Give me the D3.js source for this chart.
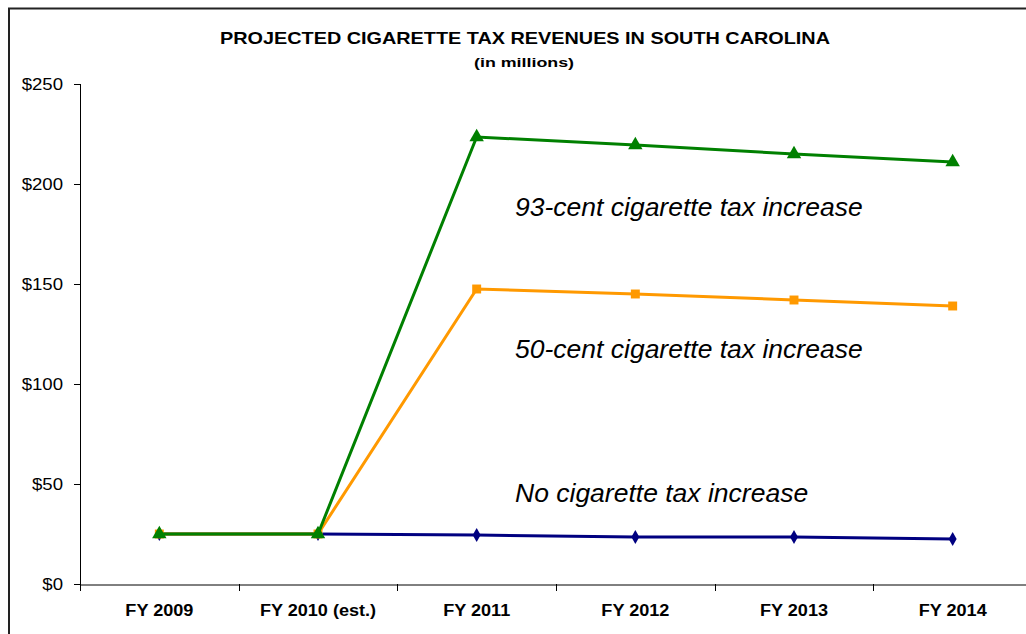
<!DOCTYPE html>
<html><head><meta charset="utf-8">
<script src="https://cdn.jsdelivr.net/npm/d3@7"></script>
<style>body{margin:0;background:#fff}svg{display:block}text{font-family:Arial,"Liberation Sans",sans-serif}</style>
</head><body><svg id="c" width="1026" height="634"></svg>
<script>
const categories = ["FY 2009","FY 2010 (est.)","FY 2011","FY 2012","FY 2013","FY 2014"];
const noIncrease = [25, 25, 24.5, 23.5, 23.5, 22.5];
const cent50 = [25, 25, 147.5, 145, 142, 139];
const cent93 = [25, 25, 223.5, 219.5, 215, 211];
const yTicks = [0, 50, 100, 150, 200, 250];
const title = "PROJECTED CIGARETTE TAX REVENUES IN SOUTH CAROLINA";
const subtitle = "(in millions)";
const labels = ["93-cent cigarette tax increase","50-cent cigarette tax increase","No cigarette tax increase"];
const labelValues = [184, 113, 41];

const svg = d3.select("#c");
svg.append("rect").attr("x",9).attr("y",8.5).attr("width",1100).attr("height",700)
  .attr("fill","none").attr("stroke","#222").attr("stroke-width",2);

const x = d3.scaleBand().domain(categories).range([80, 1032]);
const y = d3.scaleLinear().domain([0,250]).range([584, 84]);

function stretch(sel, f){
  sel.each(function(){
    const w = this.getComputedTextLength();
    d3.select(this).attr("textLength", w*f).attr("lengthAdjust","spacingAndGlyphs");
  });
}

svg.append("text").attr("x",525).attr("y",44).attr("text-anchor","middle")
  .attr("font-weight","bold").attr("font-size",16.5).attr("fill","#000")
  .attr("textLength",610).attr("lengthAdjust","spacingAndGlyphs").text(title);
svg.append("text").attr("x",524).attr("y",67).attr("text-anchor","middle")
  .attr("font-weight","bold").attr("font-size",13.5).attr("fill","#000")
  .attr("textLength",100).attr("lengthAdjust","spacingAndGlyphs").text(subtitle);

const ya = svg.append("g").attr("transform","translate(80,0)")
  .call(d3.axisLeft(y).tickValues(yTicks).tickSize(6).tickPadding(11).tickFormat(d=>"$"+d));
ya.select(".domain").attr("stroke","#000").attr("d","M0.5,"+y(250)+"V"+y(0));
ya.selectAll(".tick line").attr("stroke","#000");
ya.selectAll("text").attr("font-size",16).attr("fill","#000").attr("font-family","Arial, Liberation Sans, sans-serif");
stretch(ya.selectAll("text"), 1.16);

const xa = svg.append("g").attr("transform","translate(0,584.5)")
  .call(d3.axisBottom(x).tickSize(0).tickPadding(20));
xa.select(".domain").attr("stroke","#000");
xa.selectAll("text").attr("font-size",16).attr("font-weight","bold").attr("fill","#000").attr("font-family","Arial, Liberation Sans, sans-serif");
stretch(xa.selectAll("text"), 1.13);
const bounds = categories.map(c=>x(c)).concat([x(categories[5])+x.bandwidth()]);
svg.append("g").selectAll("line").data(bounds).join("line")
  .attr("x1",d=>Math.round(d)+0.5).attr("x2",d=>Math.round(d)+0.5)
  .attr("y1",584).attr("y2",591).attr("stroke","#000");

const cx = i => x(categories[i]) + x.bandwidth()/2;
const line = d3.line().x((d,i)=>cx(i)).y(d=>y(d));

function series(vals, color, shape, size){
  svg.append("path").datum(vals).attr("d",line).attr("fill","none")
    .attr("stroke",color).attr("stroke-width",3);
  svg.append("g").selectAll("path").data(vals).join("path")
    .attr("transform",(d,i)=>`translate(${cx(i)},${y(d)})`)
    .attr("d",d3.symbol(shape,size)).attr("fill",color);
}
series(noIncrease, "#000080", d3.symbolDiamond, 55);
series(cent50, "#FF9900", d3.symbolSquare, 80);
series(cent93, "#008000", d3.symbolTriangle, 90);

svg.append("g").selectAll("text").data(labels).join("text")
  .attr("x",515).attr("y",(d,i)=>y(labelValues[i]))
  .attr("font-size",26.5).attr("font-style","italic").attr("fill","#000").text(d=>d);
</script></body></html>
